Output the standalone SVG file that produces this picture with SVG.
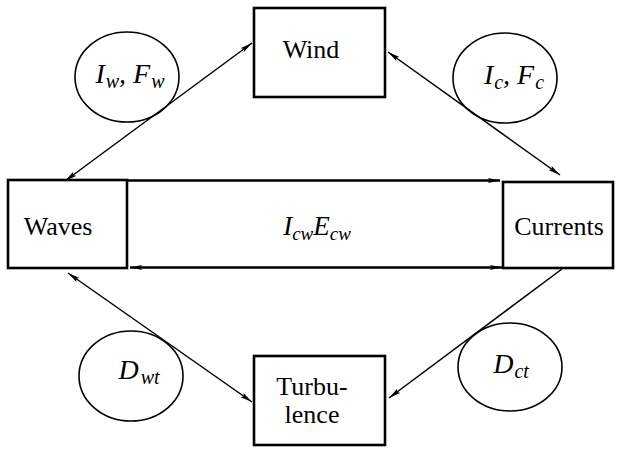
<svg xmlns="http://www.w3.org/2000/svg" width="619" height="450" viewBox="0 0 619 450">
<defs>
<style>
.box{fill:none;stroke:#000;stroke-width:2.6}
.ell{fill:none;stroke:#000;stroke-width:1.6}
.con{fill:none;stroke:#000;stroke-width:1.5}
.thick{fill:none;stroke:#000;stroke-width:2.6}
</style>
<marker id="ah" viewBox="0 0 12 6" refX="12" refY="3" markerWidth="12" markerHeight="6" markerUnits="userSpaceOnUse" orient="auto-start-reverse">
<path d="M0,0.5 L12,3 L0,5.5 L2,3 Z" fill="#000"/>
</marker>
</defs>
<rect width="619" height="450" fill="#fff"/>
<g font-family="Liberation Serif" font-size="26" fill="#000">
<g id="connectors">
<line class="con" x1="65" y1="181" x2="252" y2="43" marker-start="url(#ah)" marker-end="url(#ah)"/>
<line class="con" x1="388" y1="52" x2="560" y2="175" marker-start="url(#ah)" marker-end="url(#ah)"/>
<line class="con" x1="68" y1="273" x2="252" y2="402" marker-start="url(#ah)" marker-end="url(#ah)"/>
<line class="con" x1="562" y1="269" x2="389" y2="398" marker-end="url(#ah)"/>
<line class="thick" x1="127" y1="180.5" x2="500" y2="180.5" marker-end="url(#ah)"/>
<line class="thick" x1="130" y1="267.5" x2="502" y2="267.5" marker-start="url(#ah)" marker-end="url(#ah)"/>
<text font-style="italic" font-size="27" x="317" y="235" text-anchor="middle">I<tspan font-size="19" dy="5">cw</tspan><tspan dy="-5">E</tspan><tspan font-size="19" dy="5">cw</tspan></text>
</g>
<g id="wind">
<rect class="box" x="254" y="8" width="131" height="89"/>
<text x="311" y="58" text-anchor="middle">Wind</text>
</g>
<g id="waves">
<rect class="box" x="8" y="180" width="119" height="88"/>
<text x="58" y="235" text-anchor="middle">Waves</text>
</g>
<g id="currents">
<rect class="box" x="503" y="182" width="110" height="86"/>
<text x="559" y="235" text-anchor="middle">Currents</text>
</g>
<g id="turbulence">
<rect class="box" x="254" y="356" width="131" height="89"/>
<text x="312" y="395" text-anchor="middle">Turbu-</text>
<text x="312" y="423" text-anchor="middle">lence</text>
</g>
<g id="label-iw-fw">
<ellipse class="ell" cx="127" cy="77" rx="52" ry="45"/>
<text font-style="italic" font-size="28" x="130" y="83" text-anchor="middle">I<tspan font-size="20" dx="1" dy="5">w</tspan><tspan dy="-5">, F</tspan><tspan font-size="20" dx="1" dy="5">w</tspan></text>
</g>
<g id="label-ic-fc">
<ellipse class="ell" cx="505" cy="78" rx="52" ry="45"/>
<text font-style="italic" font-size="28" x="514" y="84" text-anchor="middle">I<tspan font-size="20" dx="1" dy="5">c</tspan><tspan dy="-5">, F</tspan><tspan font-size="20" dx="1" dy="5">c</tspan></text>
</g>
<g id="label-dwt">
<ellipse class="ell" cx="131" cy="376" rx="52" ry="45"/>
<text font-style="italic" font-size="28" x="139" y="379" text-anchor="middle">D<tspan font-size="20" dx="2" dy="5">wt</tspan></text>
</g>
<g id="label-dct">
<ellipse class="ell" cx="510" cy="367" rx="52" ry="44"/>
<text font-style="italic" font-size="28" x="511" y="373" text-anchor="middle">D<tspan font-size="20" dx="1" dy="5">ct</tspan></text>
</g>
</g>
</svg>
